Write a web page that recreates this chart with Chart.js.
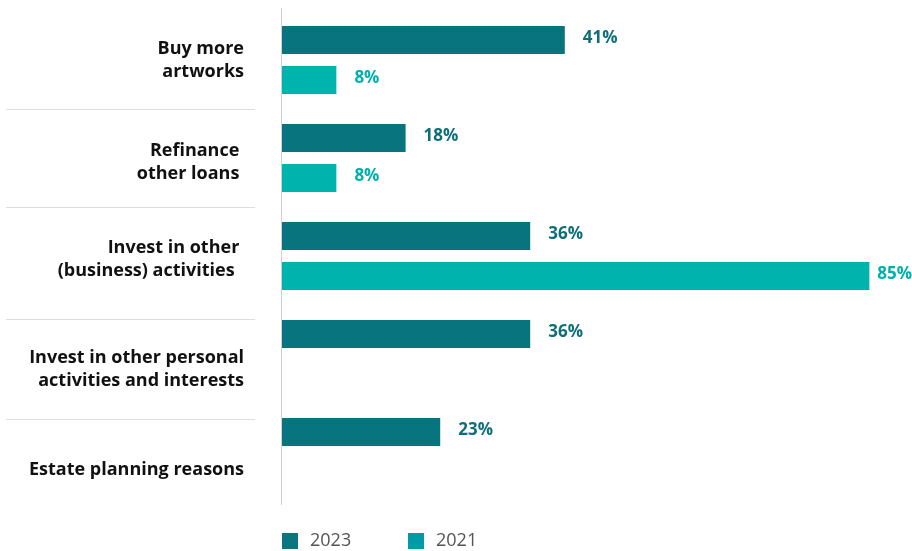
<!DOCTYPE html>
<html>
<head>
<meta charset="utf-8">
<script src="https://cdn.jsdelivr.net/npm/chart.js@4"></script>
<style>
html,body{margin:0;padding:0;background:#fff;}
#wrap{width:912px;height:551px;position:relative;}
</style>
</head>
<body>
<div id="wrap"><canvas id="c" width="912" height="551"></canvas></div>
<script>
const categories = [
  ["Buy more", "artworks"],
  ["Refinance ", "other loans "],
  ["Invest in other ", "(business) activities  "],
  ["Invest in other personal", "activities and interests"],
  ["Estate planning reasons"]
];
const seriesNames = ["2023", "2021"];
const values2023 = [41, 18, 36, 36, 23];
const values2021 = [8, 8, 85, null, null];

const barColors = ["#08747e", "#00b4ae"];
const labelColors = ["#0e6f79", "#00b1ab"];
const legendColors = ["#0b7680", "#039aa8"];

const labelShift = [0, 4, 3, 15, 18];
const sepShift = [0, 0, 14, 16];

const overlay = {
  id: 'overlay',
  afterDatasetsDraw(chart) {
    const ctx = chart.ctx;
    const y = chart.scales.y;
    const area = chart.chartArea;
    ctx.save();
    // axis line
    ctx.strokeStyle = '#cfcfcf';
    ctx.lineWidth = 1;
    ctx.beginPath();
    ctx.moveTo(area.left + 0.5, area.top - 3);
    ctx.lineTo(area.left + 0.5, area.bottom + 4);
    ctx.stroke();
    // separators
    ctx.strokeStyle = '#dedede';
    for (let i = 0; i < categories.length - 1; i++) {
      const yy = Math.round((y.getPixelForValue(i) + y.getPixelForValue(i + 1)) / 2 + sepShift[i]) + 0.5;
      ctx.beginPath();
      ctx.moveTo(6, yy);
      ctx.lineTo(255, yy);
      ctx.stroke();
    }
    // category labels
    ctx.fillStyle = '#111';
    ctx.font = 'bold 18px "Open Sans"';
    ctx.textAlign = 'right';
    ctx.textBaseline = 'middle';
    const lh = 23;
    categories.forEach((lines, i) => {
      const cy = y.getPixelForValue(i) + labelShift[i];
      const start = cy - (lines.length - 1) * lh / 2;
      lines.forEach((t, k) => ctx.fillText(t, 244, start + k * lh));
    });
    // value labels
    ctx.textAlign = 'left';
    ctx.font = 'bold 17px "Open Sans"';
    chart.data.datasets.forEach((ds, di) => {
      const meta = chart.getDatasetMeta(di);
      meta.data.forEach((bar, j) => {
        const v = ds.data[j];
        if (v === null || v === undefined) return;
        const txt = v + '%';
        const w = ctx.measureText(txt).width;
        const tx = Math.min(bar.x + 18, chart.width - w);
        ctx.fillStyle = labelColors[di];
        ctx.fillText(txt, tx, bar.y - 2);
      });
    });
    // legend
    ctx.font = '18px "Open Sans"';
    ctx.textBaseline = 'middle';
    let lx = 282;
    const ly = 533;
    chart.data.datasets.forEach((ds, di) => {
      ctx.fillStyle = legendColors[di];
      ctx.fillRect(lx, ly, 16, 16);
      ctx.fillStyle = '#555';
      ctx.fillText(ds.label, lx + 28, ly + 8);
      lx += 126;
    });
    ctx.restore();
  }
};

new Chart(document.getElementById('c'), {
  type: 'bar',
  data: {
    labels: categories.map(c => c.join(' ')),
    datasets: [
      { label: seriesNames[0], data: values2023, backgroundColor: barColors[0], categoryPercentage: 0.816, barPercentage: 0.7 },
      { label: seriesNames[1], data: values2021, backgroundColor: barColors[1], categoryPercentage: 0.816, barPercentage: 0.7 }
    ]
  },
  options: {
    indexAxis: 'y',
    responsive: false,
    animation: false,
    layout: { padding: { left: 281, right: 8, top: 11, bottom: 50 } },
    scales: {
      x: { display: false, min: 0, max: 90 },
      y: { display: false }
    },
    plugins: { legend: { display: false }, tooltip: { enabled: false } }
  },
  plugins: [overlay]
});
</script>
</body>
</html>
